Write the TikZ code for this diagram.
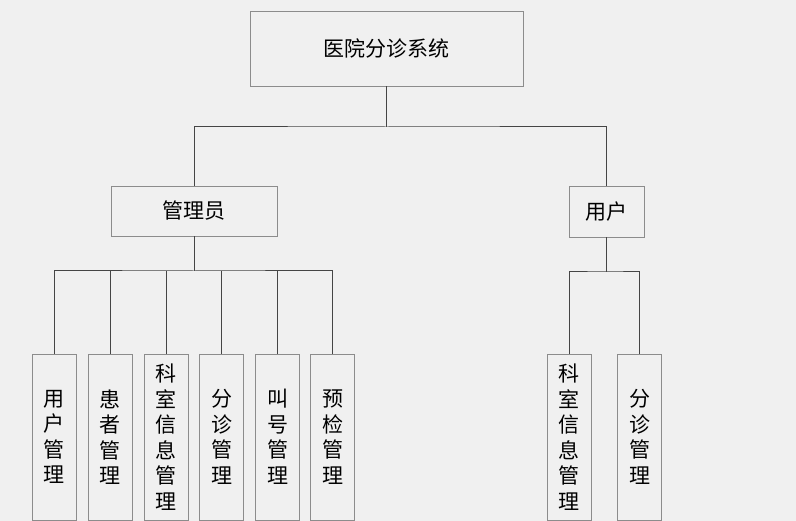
\documentclass[tikz,border=0pt]{standalone}
\usepackage{fontspec}
\setmainfont{Noto Sans CJK SC}
\usepackage{tikz}
\usetikzlibrary{positioning,calc}
\definecolor{bggray}{HTML}{F0F0F0}
\definecolor{boxline}{HTML}{8C8C8C}
\definecolor{linkline}{HTML}{454545}
\tikzset{
    every picture/.style={line width=0.8pt},
    modbox/.style={draw=boxline,fill=bggray,inner sep=0pt,align=center,
        font=\fontsize{21}{25.5}\selectfont},
    leafbox/.style={modbox,minimum width=44pt,minimum height=166pt},
    link/.style={draw=linkline,line width=1pt}
}

\begin{document}
\begin{tikzpicture}[x=1pt,y=-1pt]
    \fill[bggray] (0,0) rectangle (796,521);
    \useasboundingbox (0,0) rectangle (796,521);
    % top level
    \node[modbox,minimum width=273pt,minimum height=75pt] (sys) at (386.5,48.5) {医院分诊系统};
    \node[modbox,minimum width=166pt,minimum height=50pt] (admin) at (194,211) {管理员};
    \node[modbox,minimum width=75pt,minimum height=51pt] (user) at (606.5,211.5) {用户};
    \coordinate (sysjoin) at (386.5,127);
    \draw[link] (sys) -- (sysjoin);
    \draw[link] (admin.north) |- (sysjoin) -| (user.north);
    % admin modules
    \node[leafbox] (a1) at (54,437) {用\\户\\管\\理};
    \node[leafbox] (a2) at (110,437) {患\\者\\管\\理};
    \node[leafbox] (a3) at (166,437) {科\\室\\信\\息\\管\\理};
    \node[leafbox] (a4) at (221.5,437) {分\\诊\\管\\理};
    \node[leafbox] (a5) at (277.5,437) {叫\\号\\管\\理};
    \node[leafbox] (a6) at (332.5,437) {预\\检\\管\\理};
    \coordinate (adminjoin) at (194,271);
    \draw[link] (admin) -- (adminjoin);
    \draw[link] (a1.north) |- (adminjoin) -| (a6.north);
    \draw[link] (a2.north) -- (a2.north |- adminjoin);
    \draw[link] (a3.north) -- (a3.north |- adminjoin);
    \draw[link] (a4.north) -- (a4.north |- adminjoin);
    \draw[link] (a5.north) -- (a5.north |- adminjoin);
    % user modules
    \node[leafbox] (u1) at (569,437) {科\\室\\信\\息\\管\\理};
    \node[leafbox] (u2) at (639.5,437) {分\\诊\\管\\理};
    \coordinate (userjoin) at (606.5,272);
    \draw[link] (user) -- (userjoin);
    \draw[link] (u1.north) |- (userjoin) -| (u2.north);
\end{tikzpicture}
\end{document}
